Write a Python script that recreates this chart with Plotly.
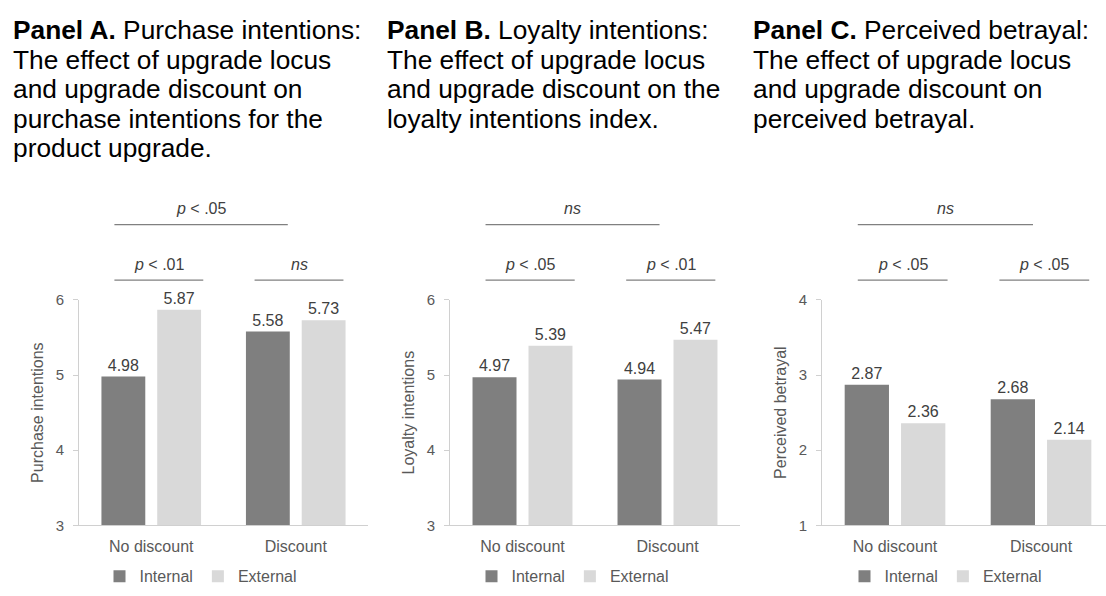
import plotly.graph_objects as go

W, H = 1106, 596

# ---------------- data ----------------
categories = ["No discount", "Discount"]
series_names = ["Internal", "External"]

purchase_internal = [4.98, 5.58]
purchase_external = [5.87, 5.73]

loyalty_internal = [4.97, 4.94]
loyalty_external = [5.39, 5.47]

betrayal_internal = [2.87, 2.68]
betrayal_external = [2.36, 2.14]

y_titles = ["Purchase intentions", "Loyalty intentions", "Perceived betrayal"]
y_ranges = [[3, 6], [3, 6], [1, 4]]

sig_top = ["p < .05", "ns", "ns"]
sig_left = ["p < .01", "p < .05", "p < .05"]
sig_right = ["ns", "p < .01", "p < .05"]

titles = [
    ["<b>Panel A.</b> Purchase intentions:", "The effect of upgrade locus",
     "and upgrade discount on", "purchase intentions for the", "product upgrade."],
    ["<b>Panel B.</b> Loyalty intentions:", "The effect of upgrade locus",
     "and upgrade discount on the", "loyalty intentions index."],
    ["<b>Panel C.</b> Perceived betrayal:", "The effect of upgrade locus",
     "and upgrade discount on", "perceived betrayal."],
]

# ---------------- styling ----------------
COL_INT = "#7f7f7f"
COL_EXT = "#d9d9d9"
AXIS_COL = "#d0d0d0"
TXT = "#595959"
LBL = "#404040"
FONT = "Liberation Sans, Arial, sans-serif"

panels = [
    (purchase_internal, purchase_external),
    (loyalty_internal, loyalty_external),
    (betrayal_internal, betrayal_external),
]

x_domains = [[79 / W, 368 / W], [450 / W, 740 / W], [822 / W, 1.0]]
x_ranges = [[-0.5, 1.5], [-0.5, 1.5], [-0.5, 1.445]]
y_domain = [1 - 531.5 / H, 1 - 299.5 / H]
legend_x = [201 / W, 573 / W, 946 / W]
title_x = [11 / W, 385 / W, 751 / W]

fig = go.Figure()
layout = dict(
    width=W, height=H,
    margin=dict(l=0, r=0, t=0, b=0),
    paper_bgcolor="white", plot_bgcolor="white",
    font=dict(family=FONT, size=16, color=TXT),
    barmode="group", bargap=0.228, bargroupgap=0.214,
    annotations=[], shapes=[],
)

def fmt(s):
    return s.replace("p <", "<i>p</i> <") if s != "ns" else "<i>ns</i>"

for i, (vi, ve) in enumerate(panels):
    sfx = "" if i == 0 else str(i + 1)
    xa, ya = "x" + sfx, "y" + sfx
    leg = "legend" + sfx
    for name, vals, col in [(series_names[0], vi, COL_INT), (series_names[1], ve, COL_EXT)]:
        fig.add_trace(go.Bar(
            x=categories, y=vals, name=name, marker=dict(color=col, line=dict(width=0)),
            text=[f"{v:.2f}" for v in vals], textposition="outside",
            textfont=dict(size=16, color=LBL), cliponaxis=False,
            xaxis=xa, yaxis=ya, legend=leg, showlegend=True,
        ))
    layout["xaxis" + sfx] = dict(
        domain=x_domains[i], anchor=ya, type="category", range=x_ranges[i],
        showline=True, linecolor=AXIS_COL, linewidth=1, ticks="",
        showgrid=False, zeroline=False, tickfont=dict(size=16, color=TXT),
        ticklabelstandoff=6, fixedrange=True,
    )
    layout["yaxis" + sfx] = dict(
        domain=y_domain, anchor=xa, range=y_ranges[i], dtick=1,
        showline=True, linecolor=AXIS_COL, linewidth=1, ticks="outside",
        ticklen=5, tickcolor=AXIS_COL, showgrid=False, zeroline=False,
        tickfont=dict(size=15, color=TXT), ticklabelstandoff=6,
        title=dict(text=y_titles[i], font=dict(size=16, color=TXT), standoff=8),
        fixedrange=True,
    )
    layout[leg] = dict(
        orientation="h", x=legend_x[i], y=1 - 584 / H, xanchor="center", yanchor="middle",
        font=dict(size=16, color=TXT), bgcolor="rgba(0,0,0,0)", traceorder="normal",
    )
    # significance brackets
    lines = [(-0.255, 0.945, 1.334, sig_top[i]),
             (-0.255, 0.36, 1.088, sig_left[i]),
             (0.715, 1.33, 1.088, sig_right[i])]
    for x0, x1, yy, lab in lines:
        layout["shapes"].append(dict(
            type="line", xref=xa, yref=ya + " domain", x0=x0, x1=x1, y0=yy, y1=yy,
            line=dict(color="#808080", width=1.3),
        ))
        layout["annotations"].append(dict(
            text=fmt(lab), xref=xa, yref=ya + " domain", x=(x0 + x1) / 2, y=yy + 0.07,
            showarrow=False, xanchor="center", yanchor="middle",
            font=dict(size=16, color=LBL),
        ))
    # panel titles
    for k, line in enumerate(titles[i]):
        baseline = 31 + 30.3 * k
        layout["annotations"].append(dict(
            text=line, xref="paper", yref="paper", x=title_x[i],
            y=1 - (baseline - 9.1) / H, xanchor="left", yanchor="middle",
            showarrow=False, font=dict(size=26.3, color="black", family=FONT),
        ))

fig.update_layout(**layout)
fig.write_html(
    "out.html",
    config={"displayModeBar": False},
    post_script="document.body.style.margin='0';document.body.style.overflow='hidden';",
)
